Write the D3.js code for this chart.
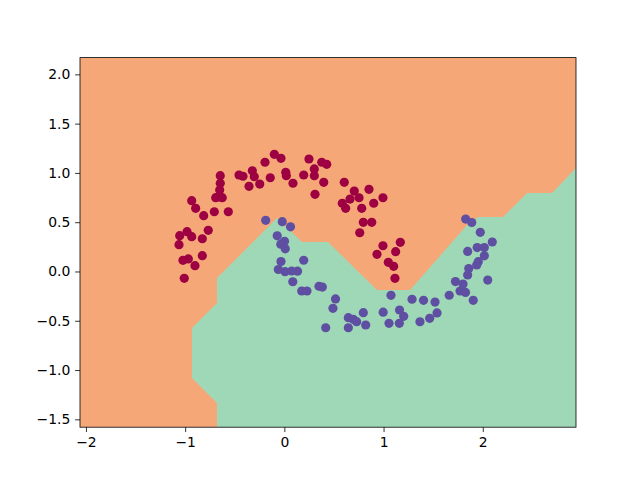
<!DOCTYPE html>
<html>
<head>
<meta charset="utf-8">
<script src="https://cdn.jsdelivr.net/npm/d3@7"></script>
<style>
  body { margin: 0; background: #fff; }
  text { font-family: "DejaVu Sans", sans-serif; }
</style>
</head>
<body>
<div id="chart"></div>
<script>
// axis limits and ticks
const xLimits = [-2.06, 2.94];
const yLimits = [-1.58, 2.17];
const xTicks = [-2, -1, 0, 1, 2];
const yTicks = [-1.5, -1.0, -0.5, 0.0, 0.5, 1.0, 1.5, 2.0];

// decision region of class 1 (green), the rest of the plot is class 0 (orange)
const regionX = [-0.679, -0.679, -0.931, -0.931, -0.679, -0.679, -0.074, 0.178, 0.440, 0.934,
  1.267, 1.842, 1.953, 2.205, 2.447, 2.699, 2.94, 2.94];
const regionY = [-1.58, -1.334, -1.081, -0.574, -0.320, -0.066, 0.542, 0.299, 0.299, -0.188,
  -0.188, 0.471, 0.553, 0.553, 0.796, 0.796, 1.05, -1.58];

// class 0 points (upper moon)
const redX = [-0.101, -0.034, -0.195, 0.248, 0.377, 0.427, 0.302, 0.302, 0.195, 0.014,
  0.020, 0.087, -0.142, -0.323, -0.303, -0.248, -0.356, -0.457, -0.417, -0.646,
  -0.646, -0.652, -0.659, -0.692, -0.626, 0.309, 0.397, -0.934, -0.894, -0.813,
  -0.706, -0.565, -0.767, -0.827, -0.981, -0.934, -1.055, -1.062, -1.022, -0.968,
  -0.901, -0.827, -1.009, 0.604, 0.705, 0.853, 0.994, 0.753, 0.662, 0.584,
  0.618, 0.780, 0.901, 0.796, 0.881, 0.760, 0.994, 0.934, 1.122, 1.169,
  1.048, 1.102, 1.115];
const redY = [1.189, 1.148, 1.108, 1.141, 1.108, 1.087, 1.040, 0.972, 0.979, 1.006,
  0.972, 0.895, 0.951, 1.022, 0.962, 0.887, 0.864, 0.979, 0.966, 0.972,
  0.895, 0.827, 0.756, 0.749, 0.749, 0.783, 0.905, 0.718, 0.641, 0.566,
  0.606, 0.606, 0.418, 0.332, 0.404, 0.353, 0.363, 0.272, 0.113, 0.127,
  0.059, 0.160, -0.069, 0.905, 0.816, 0.834, 0.748, 0.748, 0.735, 0.692,
  0.641, 0.641, 0.692, 0.499, 0.499, 0.393, 0.261, 0.174, 0.201, 0.296,
  0.093, 0.052, -0.069];

// class 1 points (lower moon)
const blueX = [-0.188, -0.021, 0.062, -0.072, 0.002, -0.036, 0.009, -0.034, 0.195, -0.061,
  0.007, 0.133, 0.074, 0.085, 0.175, 0.228, 0.349, 0.383, 0.516, 0.490,
  0.417, 0.645, 0.645, 0.695, 0.729, 0.796, 0.820, 0.996, 1.055, 1.075,
  1.161, 1.203, 1.159, 1.287, 1.403, 1.519, 1.539, 1.465, 1.367, 1.662,
  1.725, 1.771, 1.826, 1.904, 1.801, 1.848, 1.859, 1.939, 1.955, 1.848,
  1.944, 2.016, 2.016, 2.096, 2.050, 1.828, 1.889, 1.975];
const blueY = [0.519, 0.505, 0.453, 0.362, 0.306, 0.277, 0.230, 0.101, 0.114, 0.020,
  -0.002, 0.003, 0.005, -0.104, -0.198, -0.198, -0.150, -0.158, -0.279, -0.374,
  -0.571, -0.469, -0.571, -0.485, -0.509, -0.418, -0.543, -0.413, -0.526, -0.242,
  -0.391, -0.455, -0.526, -0.282, -0.293, -0.310, -0.421, -0.475, -0.510, -0.241,
  -0.102, -0.198, -0.213, -0.293, -0.127, -0.036, 0.030, 0.066, 0.099, 0.203,
  0.243, 0.243, 0.159, 0.299, -0.087, 0.532, 0.497, 0.397];

const width = 640;
const height = 480;
const margin = { left: 80, right: 64, top: 57.6, bottom: 52.8 };

const svg = d3.select("#chart")
  .append("svg")
  .attr("width", width)
  .attr("height", height);

const x = d3.scaleLinear()
  .domain(xLimits)
  .range([margin.left, width - margin.right]);

const y = d3.scaleLinear()
  .domain(yLimits)
  .range([height - margin.bottom, margin.top]);

svg.append("defs").append("clipPath")
  .attr("id", "plot-clip")
  .append("rect")
  .attr("x", x(xLimits[0]))
  .attr("y", y(yLimits[1]))
  .attr("width", x(xLimits[1]) - x(xLimits[0]))
  .attr("height", y(yLimits[0]) - y(yLimits[1]));

const plot = svg.append("g").attr("clip-path", "url(#plot-clip)");

// class 0 background
plot.append("rect")
  .attr("x", x(xLimits[0]))
  .attr("y", y(yLimits[1]))
  .attr("width", x(xLimits[1]) - x(xLimits[0]))
  .attr("height", y(yLimits[0]) - y(yLimits[1]))
  .attr("fill", "#f6a778");

// class 1 region
const region = regionX.map((v, i) => [v, regionY[i]]);
const line = d3.line().x(d => x(d[0])).y(d => y(d[1]));

plot.append("path")
  .attr("d", line(region) + "Z")
  .attr("fill", "#9fd8b6");

// POINTS
const points = redX.map((v, i) => ({ x: v, y: redY[i], c: "#9e0142" }))
  .concat(blueX.map((v, i) => ({ x: v, y: blueY[i], c: "#5e4fa2" })));

plot.selectAll("circle")
  .data(points)
  .enter()
  .append("circle")
  .attr("cx", d => x(d.x))
  .attr("cy", d => y(d.y))
  .attr("r", 4.6)
  .attr("fill", d => d.c);

// AXES
const tick = 4.86;

const xAxis = svg.append("g")
  .attr("transform", `translate(0,${y(yLimits[0])})`)
  .call(d3.axisBottom(x).tickValues(xTicks).tickFormat(d3.format("d"))
    .tickSize(tick).tickPadding(4.9).tickSizeOuter(0));

const yAxis = svg.append("g")
  .attr("transform", `translate(${x(xLimits[0])},0)`)
  .call(d3.axisLeft(y).tickValues(yTicks).tickFormat(d3.format(".1f"))
    .tickSize(tick).tickPadding(4.9).tickSizeOuter(0));

[xAxis, yAxis].forEach(a => {
  a.select(".domain").remove();
  a.selectAll("line").attr("stroke", "#000").attr("stroke-width", 0.8);
  a.selectAll("text")
    .attr("fill", "#000")
    .style("font-size", "13.9px")
    .style("font-family", "DejaVu Sans");
});

// spines
svg.append("rect")
  .attr("x", x(xLimits[0]))
  .attr("y", y(yLimits[1]))
  .attr("width", x(xLimits[1]) - x(xLimits[0]))
  .attr("height", y(yLimits[0]) - y(yLimits[1]))
  .attr("fill", "none")
  .attr("stroke", "#000")
  .attr("stroke-width", 0.8);
</script>
</body>
</html>
